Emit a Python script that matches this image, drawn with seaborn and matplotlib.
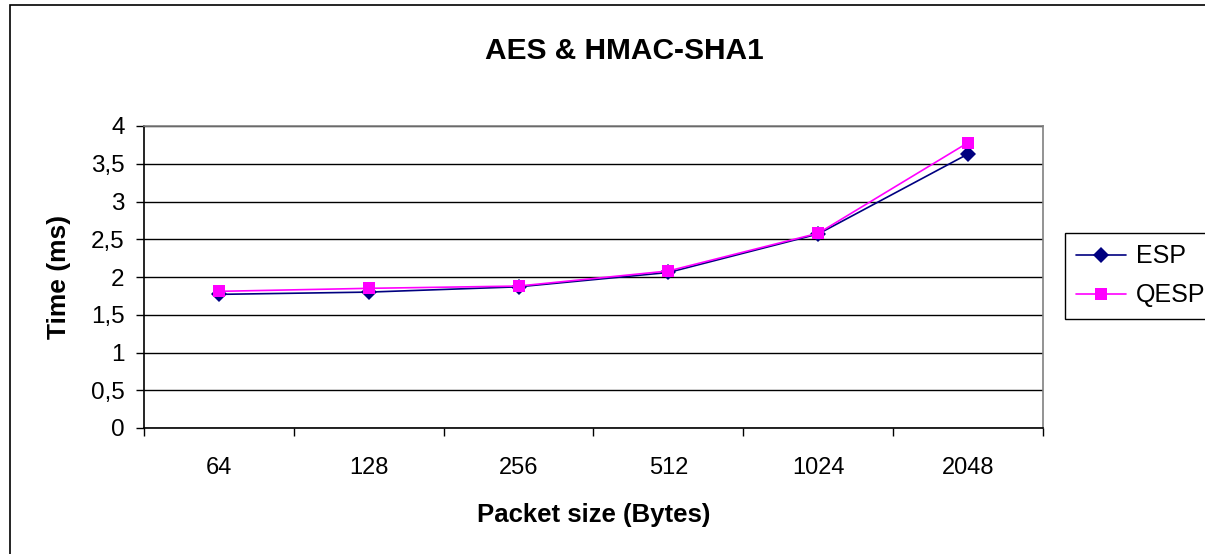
import numpy as np
import pandas as pd
import matplotlib.pyplot as plt
import matplotlib.patches as patches
import seaborn as sns

# values
packet_sizes = ["64", "128", "256", "512", "1024", "2048"]
esp_time = [1.77, 1.80, 1.87, 2.06, 2.57, 3.63]
qesp_time = [1.81, 1.85, 1.88, 2.08, 2.58, 3.78]
y_ticks = [0, 0.5, 1, 1.5, 2, 2.5, 3, 3.5, 4]
y_tick_labels = ["0", "0,5", "1", "1,5", "2", "2,5", "3", "3,5", "4"]

df = pd.DataFrame({
    "pos": list(range(len(packet_sizes))) * 2,
    "time": esp_time + qesp_time,
    "series": ["ESP"] * len(esp_time) + ["QESP"] * len(qesp_time),
})

sns.set_style("white")
plt.rcParams["font.family"] = ["Liberation Sans", "DejaVu Sans"]
plt.rcParams["text.color"] = "black"
plt.rcParams["axes.labelcolor"] = "black"
plt.rcParams["xtick.color"] = "black"
plt.rcParams["ytick.color"] = "black"

fig = plt.figure(figsize=(12.05, 5.54), dpi=100)
ax = fig.add_axes([144 / 1205, 1 - 428 / 554, (1043 - 144) / 1205, (428 - 126) / 554])

# outer chart border (only left and top edges fall inside the picture)
fig.patches.append(patches.Rectangle((10 / 1205, -0.1), 1.2, 1.1 - 5 / 554,
                                     transform=fig.transFigure, fill=False,
                                     edgecolor="black", linewidth=1.2))

palette = {"ESP": "#000080", "QESP": "#FF00FF"}
markers = {"ESP": "D", "QESP": "s"}
sns.lineplot(data=df, x="pos", y="time", hue="series", style="series",
             palette=palette, markers=markers, dashes=False, markersize=8,
             markeredgewidth=0, linewidth=1.2, ax=ax, zorder=3)

ax.set_xlim(-0.5, len(packet_sizes) - 0.5)
ax.set_ylim(0, 4)
ax.set_yticks(y_ticks)
ax.set_yticklabels(y_tick_labels, fontsize=17.5)
ax.yaxis.grid(True, color="black", linewidth=1)
ax.set_axisbelow(True)

# category labels between boundary ticks (Excel style)
ax.set_xticks(np.arange(-0.5, len(packet_sizes)), labels=[""] * (len(packet_sizes) + 1))
ax.set_xticks(np.arange(len(packet_sizes)), labels=packet_sizes, minor=True)
ax.tick_params(axis="x", which="major", direction="out", length=6, width=1, color="black", bottom=True)
ax.tick_params(axis="x", which="minor", length=0, labelsize=17, pad=21)
ax.tick_params(axis="y", direction="out", length=6, width=1, color="black", left=True, pad=8)

for side in ["left", "bottom"]:
    ax.spines[side].set_color("black")
    ax.spines[side].set_linewidth(1.2)
for side in ["top", "right"]:
    ax.spines[side].set_color("#808080")
    ax.spines[side].set_linewidth(1.2)

ax.set_xlabel("Packet size (Bytes)", fontsize=18.5, fontweight="bold", labelpad=17)
ax.set_ylabel("Time (ms)", fontsize=19, fontweight="bold", labelpad=14)
fig.text(0.518, 1 - 51 / 554, "AES & HMAC-SHA1", ha="center", va="center",
         fontsize=21.5, fontweight="bold")

handles, labels = ax.get_legend_handles_labels()
ax.legend(handles, labels, loc="upper left", bbox_to_anchor=(1065 / 1205, 1 - 233 / 554),
          bbox_transform=fig.transFigure, fontsize=18, frameon=True, fancybox=False,
          edgecolor="black", framealpha=1, handlelength=2.0, borderpad=0.45,
          labelspacing=0.6, handletextpad=0.4, borderaxespad=0)
ax.get_legend().get_frame().set_linewidth(1)

fig.savefig("out.png", dpi=100)
